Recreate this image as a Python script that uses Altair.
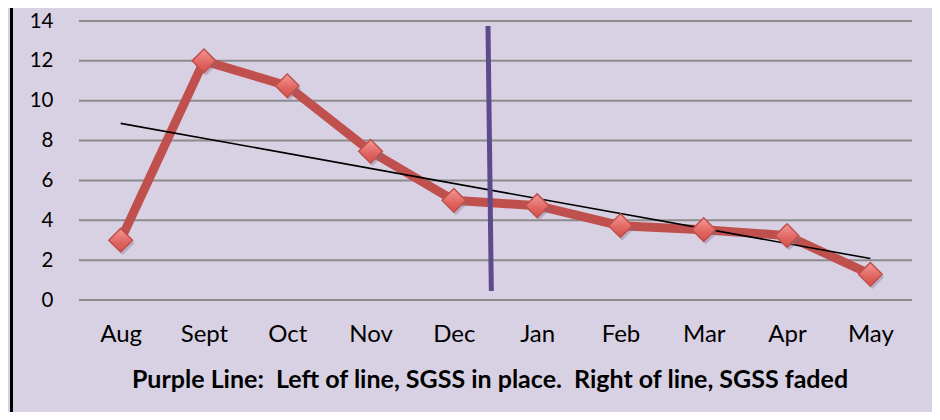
import altair as alt
import pandas as pd
import numpy as np

months = ["Aug", "Sept", "Oct", "Nov", "Dec", "Jan", "Feb", "Mar", "Apr", "May"]
values = [3.0, 12.0, 10.75, 7.46, 5.0, 4.73, 3.73, 3.53, 3.23, 1.29]
y_ticks = [0, 2, 4, 6, 8, 10, 12, 14]
divider_x = [4.41, 4.45]
divider_y = [13.75, 0.45]
title_text = "Purple Line:\u00a0 Left of line, SGSS in place.\u00a0 Right of line, SGSS faded"

BG = "#D8D1E3"
FONT = "Lato"

idx = list(range(len(months)))
df = pd.DataFrame({"i": idx, "month": months, "v": values})

slope, intercept = np.polyfit(idx, values, 1)
trend = pd.DataFrame({"i": [idx[0], idx[-1]],
                      "v": [intercept + slope * idx[0], intercept + slope * idx[-1]]})
div = pd.DataFrame({"x": [divider_x[0]], "x2": [divider_x[1]],
                    "y": [divider_y[0]], "y2": [divider_y[1]]})
grid_df = pd.DataFrame({"g": y_ticks})

label_expr = "[" + ",".join(f"'{m}'" for m in months) + "][datum.value]"

x_scale = alt.Scale(domain=[-0.5, len(months) - 0.5], nice=False, zero=False)
y_scale = alt.Scale(domain=[0, 14], nice=False)

x_axis = alt.Axis(values=idx, labelExpr=label_expr, grid=False, domain=False, ticks=False,
                  labelFontSize=24, labelFont=FONT, labelColor="black", labelPadding=22,
                  labelOverlap=False,
                  title=title_text, titleFont=FONT, titleFontSize=25, titleFontWeight="bold",
                  titleColor="black", titlePadding=7, titleX=410.5, titleAlign="center",
                  minExtent=60, maxExtent=60)
y_axis = alt.Axis(values=y_ticks, grid=False, domain=False,
                  ticks=False, labelFontSize=20.5, labelFont=FONT, labelColor="black",
                  labelPadding=26, labelOverlap=False, title=None, minExtent=45, maxExtent=45)


def X(field):
    return alt.X(field, scale=x_scale, axis=x_axis)


def Y(field):
    return alt.Y(field, scale=y_scale, axis=y_axis)


base = alt.Chart(df)

grid = alt.Chart(grid_df).mark_rule(color="#8C8C8C", strokeWidth=2).encode(
    y=Y("g:Q"), x=alt.value(0), x2=alt.value(833))

line = base.mark_line(color="#C0504D", strokeWidth=9, strokeJoin="miter").encode(
    x=X("i:Q"), y=Y("v:Q"))

shadow = base.mark_point(shape="diamond", size=560, filled=True, color="#7A6E86",
                         opacity=0.35, xOffset=2, yOffset=3).encode(
    x=X("i:Q"), y=Y("v:Q"))

points = base.mark_point(
    shape="diamond", size=560, filled=True, opacity=1,
    fill=alt.Gradient(gradient="linear",
                      stops=[alt.GradientStop(color="#F49A96", offset=0),
                             alt.GradientStop(color="#E06560", offset=0.6),
                             alt.GradientStop(color="#D4504C", offset=1)],
                      x1=0, x2=0, y1=0, y2=1),
    stroke="#C0504D", strokeWidth=1.5,
).encode(x=X("i:Q"), y=Y("v:Q"))

trend_line = alt.Chart(trend).mark_line(color="black", strokeWidth=1.6).encode(
    x=X("i:Q"), y=Y("v:Q"))

divider = alt.Chart(div).mark_rule(color="#5E4A8A", strokeWidth=5).encode(
    x=X("x:Q"), x2="x2:Q", y=Y("y:Q"), y2="y2:Q")

border = alt.Chart(pd.DataFrame({"a": [0]})).mark_rule(color="black", strokeWidth=3).encode(
    x=alt.value(-67.5), y=alt.value(-16), y2=alt.value(398))

chart = alt.layer(border, grid, line, trend_line, shadow, points, divider).properties(
    width=833, height=279,
    autosize=alt.AutoSizeParams(type="none"),
    padding={"left": 71, "top": 13, "right": 20, "bottom": 112},
    background=BG,
).configure_view(stroke=None, fill=BG).configure_axis(labelOverlap=False)

chart.save("out.html", embed_options={"renderer": "svg", "actions": False})
